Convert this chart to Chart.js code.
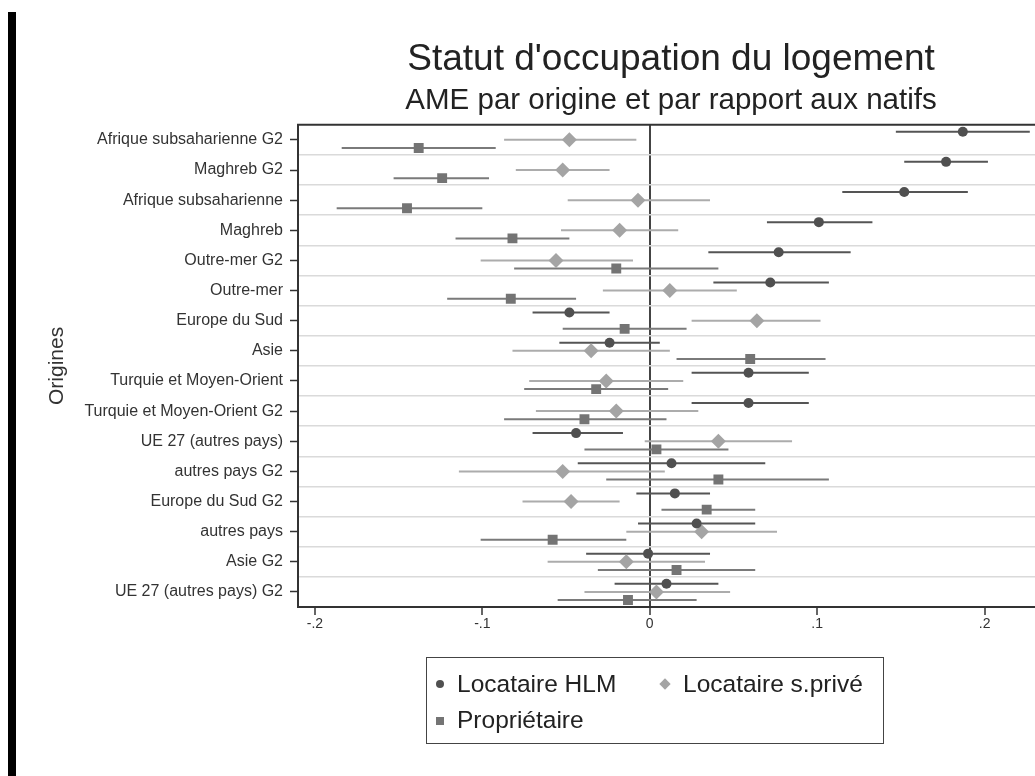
<!DOCTYPE html>
<html>
<head>
<meta charset="utf-8">
<script src="https://cdn.jsdelivr.net/npm/chart.js@4.4.1/dist/chart.umd.min.js"></script>
<style>
  html, body { margin: 0; padding: 0; background: #fff; width: 1035px; height: 776px; overflow: hidden; }
  #wrap { position: absolute; left: 0; top: 0; width: 1342px; height: 776px; }
  #edge { position: absolute; left: 8px; top: 12px; width: 8px; height: 764px; background: #000; }
  #legend { position: absolute; left: 426px; top: 657px; width: 456px; height: 85px; border: 1.5px solid #444;
    font-family: "Liberation Sans", Arial, sans-serif; font-size: 24.5px; color: #222; }
  .item { position: absolute; white-space: nowrap; line-height: 28px; }
  .mark { position: absolute; }
</style>
</head>
<body>
<div id="wrap"><canvas id="chart" width="1342" height="776"></canvas></div>
<div id="edge"></div>
<div id="legend"></div>
<script>
const categories = [
  "Afrique subsaharienne G2", "Maghreb G2", "Afrique subsaharienne", "Maghreb",
  "Outre-mer G2", "Outre-mer", "Europe du Sud", "Asie",
  "Turquie et Moyen-Orient", "Turquie et Moyen-Orient G2", "UE 27 (autres pays)", "autres pays G2",
  "Europe du Sud G2", "autres pays", "Asie G2", "UE 27 (autres pays) G2"
];

const seriesNames = ["Locataire HLM", "Locataire s.privé", "Propriétaire"];

// Locataire HLM
const hlm   = [0.187, 0.177, 0.152, 0.101, 0.077, 0.072, -0.048, -0.024, 0.059, 0.059, -0.044, 0.013, 0.015, 0.028, -0.001, 0.010];
const hlmLo = [0.147, 0.152, 0.115, 0.070, 0.035, 0.038, -0.070, -0.054, 0.025, 0.025, -0.070, -0.043, -0.008, -0.007, -0.038, -0.021];
const hlmHi = [0.227, 0.202, 0.190, 0.133, 0.120, 0.107, -0.024, 0.006, 0.095, 0.095, -0.016, 0.069, 0.036, 0.063, 0.036, 0.041];

// Locataire s.privé
const prive   = [-0.048, -0.052, -0.007, -0.018, -0.056, 0.012, 0.064, -0.035, -0.026, -0.020, 0.041, -0.052, -0.047, 0.031, -0.014, 0.004];
const priveLo = [-0.087, -0.080, -0.049, -0.053, -0.101, -0.028, 0.025, -0.082, -0.072, -0.068, -0.003, -0.114, -0.076, -0.014, -0.061, -0.039];
const priveHi = [-0.008, -0.024, 0.036, 0.017, -0.010, 0.052, 0.102, 0.012, 0.020, 0.029, 0.085, 0.009, -0.018, 0.076, 0.033, 0.048];

// Propriétaire
const prop   = [-0.138, -0.124, -0.145, -0.082, -0.020, -0.083, -0.015, 0.060, -0.032, -0.039, 0.004, 0.041, 0.034, -0.058, 0.016, -0.013];
const propLo = [-0.184, -0.153, -0.187, -0.116, -0.081, -0.121, -0.052, 0.016, -0.075, -0.087, -0.039, -0.026, 0.007, -0.101, -0.031, -0.055];
const propHi = [-0.092, -0.096, -0.100, -0.048, 0.041, -0.044, 0.022, 0.105, 0.011, 0.010, 0.047, 0.107, 0.063, -0.014, 0.063, 0.028];

const xTicks = [-0.2, -0.1, 0, 0.1, 0.2];
const xTickLabels = ["-.2", "-.1", "0", ".1", ".2"];

const offsets = [-0.27, 0, 0.27];
const colors = ["#505050", "#a4a4a4", "#747474"];
const lineColors = ["#555555", "#acacac", "#7a7a7a"];
const FONT = "'Liberation Sans', Arial, sans-serif";

function makeSet(k, values, lo, hi, style, radius) {
  return {
    label: seriesNames[k],
    data: values.map((v, i) => ({ x: v, y: i + 1 + offsets[k] })),
    lo: lo,
    hi: hi,
    pointStyle: style,
    pointRadius: radius,
    pointHoverRadius: radius,
    backgroundColor: colors[k],
    borderColor: colors[k],
    borderWidth: 0,
    ciColor: lineColors[k],
  };
}

// horizontal confidence intervals, drawn through the scales
const ciPlugin = {
  id: "ci",
  beforeDatasetsDraw(chart) {
    const { ctx, chartArea } = chart;
    const xs = chart.scales.x;
    const ys = chart.scales.y;
    ctx.save();
    ctx.beginPath();
    ctx.rect(chartArea.left, chartArea.top, chartArea.right - chartArea.left, chartArea.bottom - chartArea.top);
    ctx.clip();
    chart.data.datasets.forEach((ds) => {
      ctx.strokeStyle = ds.ciColor;
      ctx.lineWidth = 2;
      ds.data.forEach((pt, i) => {
        const y = ys.getPixelForValue(pt.y);
        ctx.beginPath();
        ctx.moveTo(xs.getPixelForValue(ds.lo[i]), y);
        ctx.lineTo(xs.getPixelForValue(ds.hi[i]), y);
        ctx.stroke();
      });
    });
    ctx.restore();
  },
  afterDraw(chart) {
    const { ctx, chartArea } = chart;
    ctx.save();
    ctx.strokeStyle = "#333";
    ctx.lineWidth = 2;
    ctx.beginPath();
    ctx.moveTo(chartArea.left - 1, chartArea.top);
    ctx.lineTo(chartArea.right, chartArea.top);
    ctx.stroke();
    ctx.restore();
  },
};

new Chart(document.getElementById("chart"), {
  type: "scatter",
  data: {
    datasets: [
      makeSet(0, hlm, hlmLo, hlmHi, "circle", 5),
      makeSet(1, prive, priveLo, priveHi, "rectRot", 7.5),
      makeSet(2, prop, propLo, propHi, "rect", 7),
    ],
  },
  options: {
    responsive: false,
    animation: false,
    devicePixelRatio: 1,
    layout: { padding: 0 },
    plugins: {
      legend: { display: false },
      tooltip: { enabled: false },
      title: {
        display: true,
        text: "Statut d'occupation du logement",
        color: "#222",
        font: { family: FONT, size: 37, weight: "normal" },
        padding: { top: 38, bottom: 1 },
      },
      subtitle: {
        display: true,
        text: "AME par origine et par rapport aux natifs",
        color: "#222",
        font: { family: FONT, size: 29.5, weight: "normal" },
        padding: { top: 0, bottom: 6 },
      },
    },
    scales: {
      x: {
        type: "linear",
        min: -0.2101,
        max: 0.409,
        afterBuildTicks: (s) => { s.ticks = xTicks.map((v) => ({ value: v })); },
        afterFit: (s) => { s.height = 169; },
        ticks: {
          callback: (v) => xTickLabels[xTicks.indexOf(v)],
          color: "#333",
          font: { family: FONT, size: 14 },
          padding: 1,
        },
        grid: {
          color: (c) => (c.tick && c.tick.value === 0 ? "#444" : "rgba(0,0,0,0)"),
          lineWidth: 2,
          tickColor: "#333",
          tickWidth: 1.5,
          tickLength: 8,
        },
        border: { color: "#333", width: 2 },
      },
      yg: {
        type: "linear",
        position: "left",
        min: 0.5,
        max: 16.5,
        reverse: true,
        afterBuildTicks: (s) => { s.ticks = categories.slice(1).map((c, i) => ({ value: i + 1.5 })); },
        afterFit: (s) => { s.width = 0; },
        ticks: { display: false },
        grid: { color: "#dadada", lineWidth: 1.5, drawTicks: false },
        border: { display: false },
      },
      y: {
        type: "linear",
        position: "left",
        min: 0.5,
        max: 16.5,
        reverse: true,
        afterBuildTicks: (s) => { s.ticks = categories.map((c, i) => ({ value: i + 1 })); },
        afterFit: (s) => { s.width = 298; },
        ticks: {
          autoSkip: false,
          callback: (v) => categories[v - 1],
          color: "#333",
          font: { family: FONT, size: 16 },
          padding: 7,
        },
        grid: { drawOnChartArea: false, tickColor: "#333", tickWidth: 1.5, tickLength: 8 },
        border: { color: "#333", width: 2 },
        title: {
          display: true,
          text: "Origines",
          color: "#333",
          font: { family: FONT, size: 21 },
          padding: { top: 45 },
        },
      },
    },
  },
  plugins: [ciPlugin],
});

// legend box (html, real text)
const legendItems = [
  { left: 30, top: 12, mark: { w: 8, h: 8, r: "50%", rot: 0, left: 9, top: 22 } },
  { left: 256, top: 12, mark: { w: 8, h: 8, r: "0", rot: 45, left: 234, top: 22 } },
  { left: 30, top: 48, mark: { w: 8, h: 8, r: "0", rot: 0, left: 9, top: 59 } },
];
const legend = document.getElementById("legend");
legendItems.forEach((it, k) => {
  const m = document.createElement("div");
  m.className = "mark";
  m.style.cssText = `left:${it.mark.left}px;top:${it.mark.top}px;width:${it.mark.w}px;height:${it.mark.h}px;` +
    `border-radius:${it.mark.r};background:${colors[k]};transform:rotate(${it.mark.rot}deg);`;
  legend.appendChild(m);
  const t = document.createElement("div");
  t.className = "item";
  t.style.left = it.left + "px";
  t.style.top = it.top + "px";
  t.textContent = seriesNames[k];
  legend.appendChild(t);
});
</script>
</body>
</html>
